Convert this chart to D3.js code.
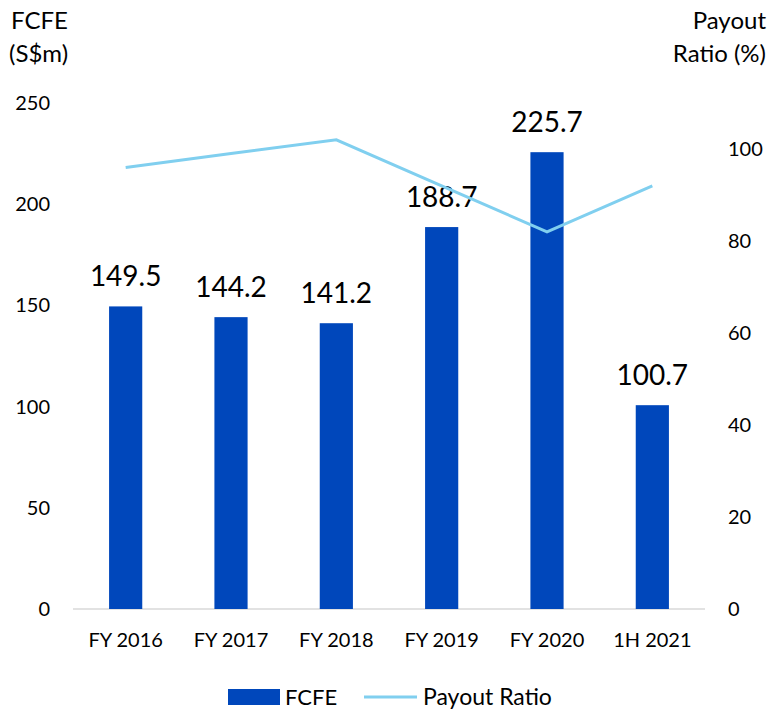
<!DOCTYPE html>
<html>
<head>
<meta charset="utf-8">
<script src="https://cdn.jsdelivr.net/npm/d3@7"></script>
<style>
  body { margin: 0; background: #fff; }
  svg text { font-family: Lato, "Open Sans", sans-serif; fill: #000; }
</style>
</head>
<body>
<svg id="chart" width="773" height="712"></svg>
<script>
// data
const periods = ["FY 2016", "FY 2017", "FY 2018", "FY 2019", "FY 2020", "1H 2021"];
const fcfe = [149.5, 144.2, 141.2, 188.7, 225.7, 100.7];
const payout = [96, 99, 102, 92, 82, 92];
const leftTicks = [0, 50, 100, 150, 200, 250];
const rightTicks = [0, 20, 40, 60, 80, 100];

const margin = { top: 103, right: 68, bottom: 103, left: 73 };
const width = 773 - margin.left - margin.right;
const height = 712 - margin.top - margin.bottom;

const barColor = "#0047BB";
const lineColor = "#80CFEF";

const svg = d3.select("#chart");
const g = svg.append("g").attr("transform", `translate(${margin.left},${margin.top})`);

// bars share the category centres of xc
const x = d3.scaleBand().domain(periods).range([0, width]).paddingInner(0.685).paddingOuter(0.3425);
const xc = d3.scaleBand().domain(periods).range([0, width]);
const yL = d3.scaleLinear().domain([0, 250]).range([height, 0]);
const yR = d3.scaleLinear().domain([0, 110]).range([height, 0]);

// baseline
g.append("line")
  .attr("x1", 0).attr("x2", width)
  .attr("y1", height).attr("y2", height)
  .attr("stroke", "#d9d9d9").attr("stroke-width", 1.5);

// bars
g.selectAll(".bar")
  .data(fcfe)
  .join("rect")
  .attr("class", "bar")
  .attr("x", (d, i) => x(periods[i]))
  .attr("width", x.bandwidth())
  .attr("y", d => yL(d))
  .attr("height", d => height - yL(d))
  .attr("fill", barColor);

// bar labels
g.selectAll(".lbl")
  .data(fcfe)
  .join("text")
  .attr("class", "lbl")
  .attr("x", (d, i) => xc(periods[i]) + xc.bandwidth() / 2)
  .attr("y", d => yL(d) - 20)
  .attr("text-anchor", "middle")
  .style("font-size", "28px")
  .text(d => d.toFixed(1));

// payout line
const line = d3.line()
  .x((d, i) => xc(periods[i]) + xc.bandwidth() / 2)
  .y(d => yR(d));
g.append("path")
  .datum(payout)
  .attr("d", line)
  .attr("fill", "none")
  .attr("stroke", lineColor)
  .attr("stroke-width", 3);

// axes
const leftAxis = g.append("g")
  .call(d3.axisLeft(yL).tickValues(leftTicks).tickSize(0).tickPadding(23));
const rightAxis = g.append("g")
  .attr("transform", `translate(${width},0)`)
  .call(d3.axisRight(yR).tickValues(rightTicks).tickSize(0).tickPadding(23));
const bottomAxis = g.append("g")
  .attr("transform", `translate(0,${height})`)
  .call(d3.axisBottom(xc).tickSize(0).tickPadding(24));

[leftAxis, rightAxis, bottomAxis].forEach(a => {
  a.select(".domain").remove();
  a.selectAll("text").style("font-size", "20px").attr("fill", "#000")
    .style("font-family", "Lato, 'Open Sans', sans-serif");
});

// axis titles
svg.append("text").attr("x", 11).attr("y", 29).style("font-size", "24px").text("FCFE");
svg.append("text").attr("x", 9).attr("y", 62).style("font-size", "24px").text("(S$m)");
svg.append("text").attr("x", 766).attr("y", 29).attr("text-anchor", "end").style("font-size", "24px").text("Payout");
svg.append("text").attr("x", 766).attr("y", 62).attr("text-anchor", "end").style("font-size", "24px").text("Ratio (%)");

// legend
const leg = svg.append("g").attr("transform", "translate(228,689)");
leg.append("rect").attr("x", 0).attr("y", 0).attr("width", 52).attr("height", 16).attr("fill", barColor);
leg.append("text").attr("x", 57).attr("y", 16).style("font-size", "22px").text("FCFE");
leg.append("line").attr("x1", 136).attr("x2", 189).attr("y1", 8).attr("y2", 8)
  .attr("stroke", lineColor).attr("stroke-width", 3);
leg.append("text").attr("x", 195).attr("y", 16).style("font-size", "23px").text("Payout Ratio");
</script>
</body>
</html>
